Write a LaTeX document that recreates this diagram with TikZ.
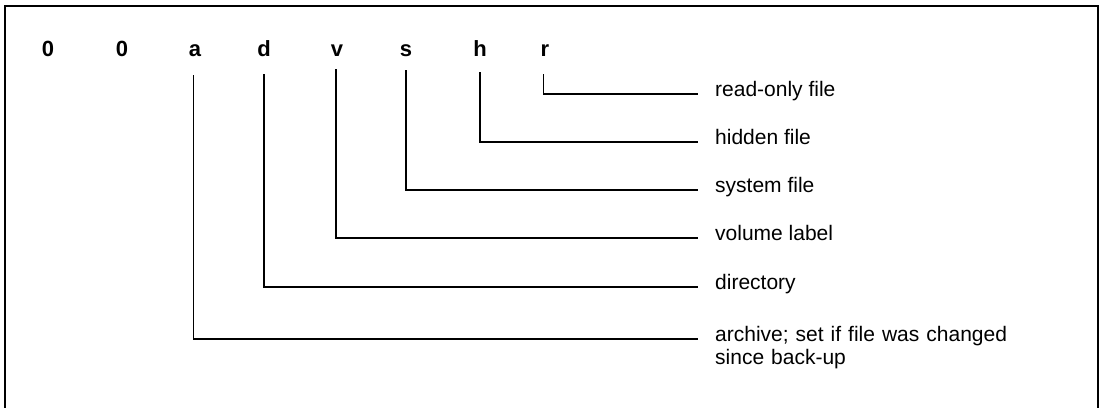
\documentclass[tikz,border=0pt]{standalone}
\usepackage{fontspec}
\setmainfont{Liberation Sans}
\begin{document}
\begin{tikzpicture}[x=1pt,y=-1pt,
  bit/.style={font=\fontsize{22}{26}\selectfont\bfseries, inner sep=0pt, anchor=base},
  lab/.style={font=\fontsize{21}{23}\selectfont, inner sep=0pt, anchor=mid west, align=left},
  conn/.style={line width=1.6pt, line cap=rect},
  frame/.style={line width=1.8pt}]
\useasboundingbox (0,0) rectangle (1102,407);
\draw[frame] (5,412) -- (5,6) -- (1098,6) -- (1098,412);
% bits
\node[bit] (b7) at (48,56) {0};
\node[bit] (b6) at (122,56) {0};
\node[bit] (ba) at (195,56) {a};
\node[bit] (bd) at (264,56) {d};
\node[bit] (bv) at (337,56) {v};
\node[bit] (bs) at (406,56) {s};
\node[bit] (bh) at (480,56) {h};
\node[bit] (br) at (545,56) {r};
% labels
\node[lab] (tr) at (715,94) {read-only file};
\node[lab] (th) at (715,142) {hidden file};
\node[lab] (ts) at (715,190) {system file};
\node[lab] (tv) at (715,238) {volume label};
\node[lab] (td) at (715,287) {directory};
\node[lab, text width=330pt, anchor=base west] (ta) at (715,341.5) {archive; set if file was changed\\since back-up};
% connectors
\draw[conn] ([xshift=-1.5pt,yshift=-19pt]br.south) |- ([xshift=-18pt]tr.mid west);
\draw[conn] ([yshift=-17pt]bh.south) |- ([xshift=-18pt]th.mid west);
\draw[conn] ([yshift=-14pt]bs.south) |- ([xshift=-18pt]ts.mid west);
\draw[conn] ([xshift=-1pt,yshift=-14pt]bv.south) |- ([xshift=-18pt]tv.mid west);
\draw[conn] ([yshift=-18pt]bd.south) |- ([xshift=-18pt]td.mid west);
\draw[conn] ([xshift=-1.5pt,yshift=-19pt]ba.south) |- ([xshift=-18pt]ta.mid west);
\end{tikzpicture}
\end{document}
